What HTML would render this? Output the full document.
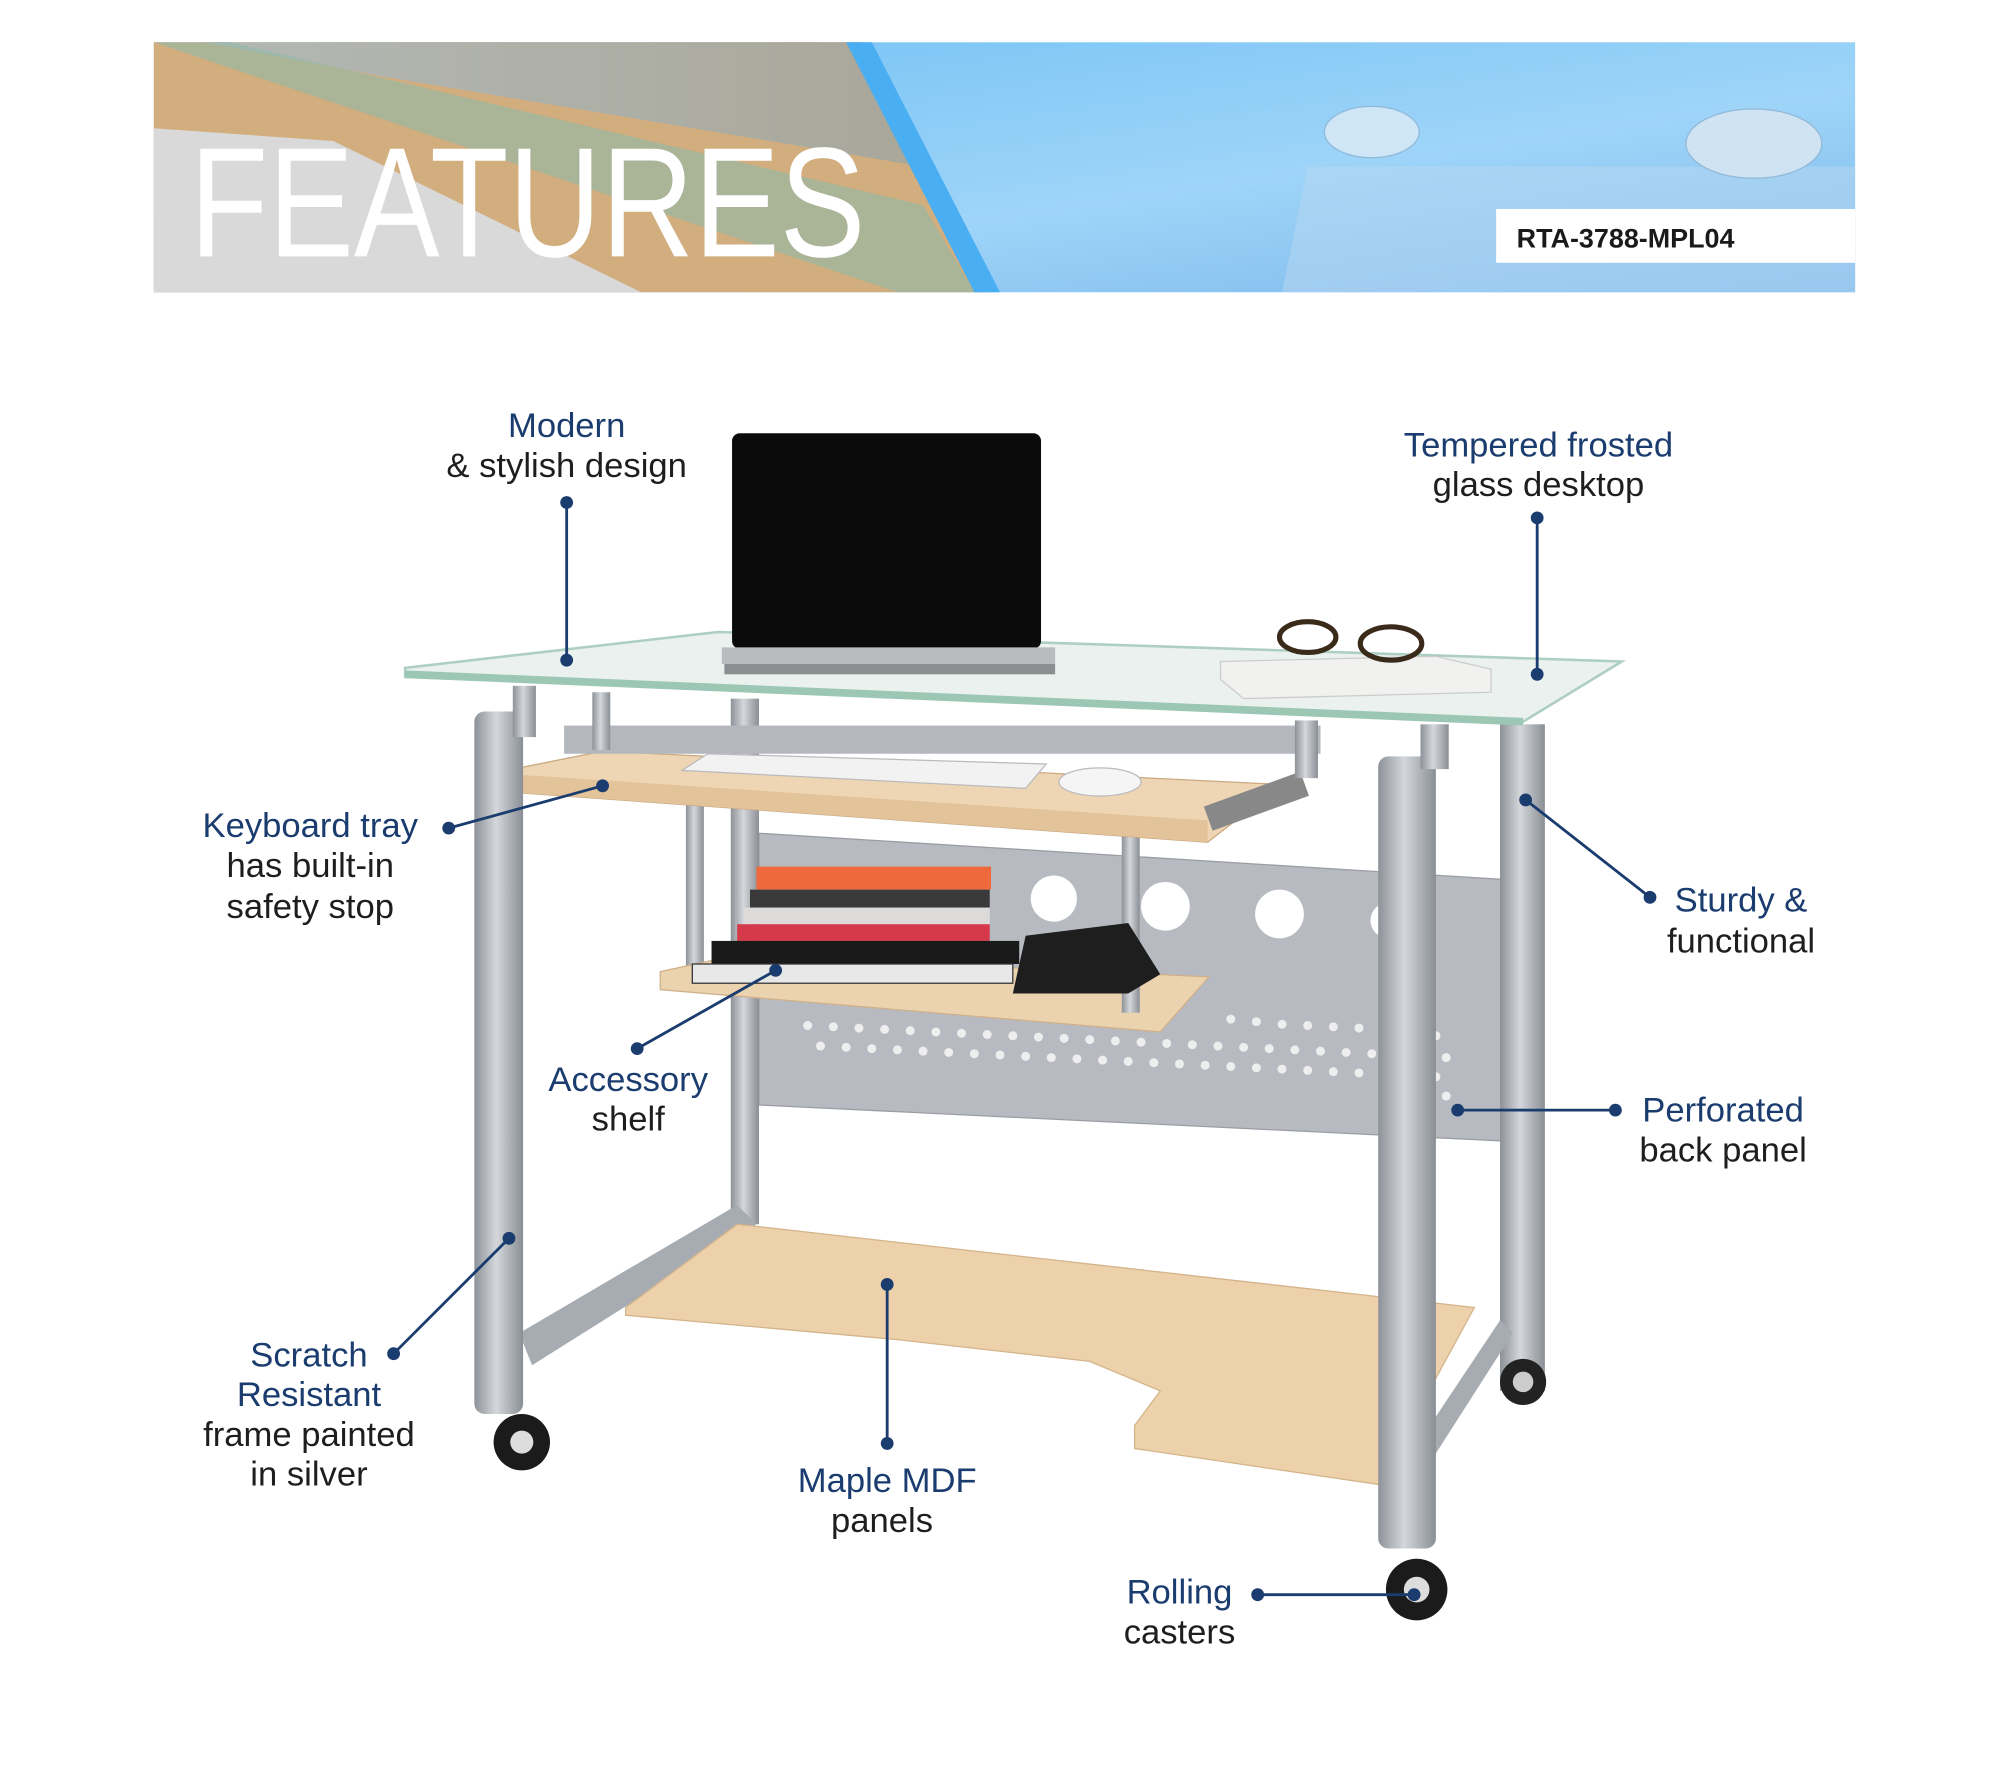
<!DOCTYPE html>
<html><head><meta charset="utf-8"><style>
html,body{margin:0;padding:0;background:#fff;}
svg{display:block;}
.h{font-family:"Liberation Sans",sans-serif;font-size:27px;fill:#1a3c6e;text-anchor:middle;}
.b{font-family:"Liberation Sans",sans-serif;font-size:27px;fill:#1e1e1e;text-anchor:middle;}
.ln{stroke:#1a3c6e;stroke-width:2.2;fill:none;}
.dt{fill:#1a3c6e;}
</style></head><body>
<svg width="2000" height="1778" viewBox="0 0 1560 1387" preserveAspectRatio="none" xmlns="http://www.w3.org/2000/svg">
<defs>
<linearGradient id="bl" x1="0" y1="0" x2="1" y2="1"><stop offset="0" stop-color="#6fc0f5"/><stop offset="0.6" stop-color="#9ed4f8"/><stop offset="1" stop-color="#7ab7ea"/></linearGradient>
<linearGradient id="lg" x1="0" y1="0" x2="1" y2="0"><stop offset="0" stop-color="#b3b8b4"/><stop offset="1" stop-color="#a9a79a"/></linearGradient>
<linearGradient id="leg" x1="0" y1="0" x2="1" y2="0"><stop offset="0" stop-color="#8d9298"/><stop offset="0.45" stop-color="#d4d7db"/><stop offset="1" stop-color="#8a8f95"/></linearGradient>
</defs>
<!-- banner -->
<rect x="120" y="33" width="1327" height="195" fill="url(#bl)"/>
<polygon points="120,33 670,33 770,228 120,228" fill="#d2ad7e"/>
<polygon points="160,33 670,33 720,130 300,60" fill="url(#lg)"/>
<polygon points="120,33 180,33 720,160 760,228 700,228" fill="#8fb9a8" opacity="0.6"/>
<polygon points="120,100 260,110 500,228 120,228" fill="#d9d9d9"/>
<polygon points="660,33 680,33 780,228 760,228" fill="#49aef2"/>
<polygon points="1020,130 1447,130 1447,228 1000,228" fill="#b7d8f2" opacity="0.5"/>
<ellipse cx="1070" cy="103" rx="37" ry="20" fill="#cfe6f7" stroke="#90b9d8"/>
<ellipse cx="1368" cy="112" rx="53" ry="27" fill="#cfe3f3" stroke="#90b9d8"/>
<text x="148" y="200" font-family="Liberation Sans,sans-serif" font-size="122" fill="#fff" textLength="527" lengthAdjust="spacingAndGlyphs" font-weight="normal" style="font-stretch:condensed">FEATURES</text>
<rect x="1167" y="163" width="280" height="42" fill="#fff"/>
<text x="1183" y="193" font-family="Liberation Sans,sans-serif" font-size="21" font-weight="bold" fill="#1a1a1a">RTA-3788-MPL04</text>

<!-- desk -->
<!-- back panel -->
<polygon points="592,650 1172,686 1172,890 592,862" fill="#b7bbc1" stroke="#9a9ea4"/>
<circle cx="822" cy="701" r="18" fill="#fff"/><circle cx="909" cy="707" r="19" fill="#fff"/><circle cx="998" cy="713" r="19" fill="#fff"/><circle cx="1083" cy="718" r="14" fill="#fff"/>
<g fill="#fff">
<rect x="620" y="790" width="515" height="50" fill="none"/>
</g>
<g fill="#f4f4f4" opacity="0.9">
<circle cx="630" cy="800" r="3.5"/><circle cx="650" cy="801" r="3.5"/><circle cx="670" cy="802" r="3.5"/><circle cx="690" cy="803" r="3.5"/><circle cx="710" cy="804" r="3.5"/><circle cx="730" cy="805" r="3.5"/><circle cx="750" cy="806" r="3.5"/><circle cx="770" cy="807" r="3.5"/><circle cx="790" cy="808" r="3.5"/><circle cx="810" cy="809" r="3.5"/><circle cx="830" cy="810" r="3.5"/><circle cx="850" cy="811" r="3.5"/><circle cx="870" cy="812" r="3.5"/><circle cx="890" cy="813" r="3.5"/><circle cx="910" cy="814" r="3.5"/><circle cx="930" cy="815" r="3.5"/><circle cx="950" cy="816" r="3.5"/><circle cx="970" cy="817" r="3.5"/><circle cx="990" cy="818" r="3.5"/><circle cx="1010" cy="819" r="3.5"/><circle cx="1030" cy="820" r="3.5"/><circle cx="1050" cy="821" r="3.5"/><circle cx="1070" cy="822" r="3.5"/><circle cx="1090" cy="823" r="3.5"/><circle cx="1110" cy="824" r="3.5"/>
<circle cx="640" cy="816" r="3.5"/><circle cx="660" cy="817" r="3.5"/><circle cx="680" cy="818" r="3.5"/><circle cx="700" cy="819" r="3.5"/><circle cx="720" cy="820" r="3.5"/><circle cx="740" cy="821" r="3.5"/><circle cx="760" cy="822" r="3.5"/><circle cx="780" cy="823" r="3.5"/><circle cx="800" cy="824" r="3.5"/><circle cx="820" cy="825" r="3.5"/><circle cx="840" cy="826" r="3.5"/><circle cx="860" cy="827" r="3.5"/><circle cx="880" cy="828" r="3.5"/><circle cx="900" cy="829" r="3.5"/><circle cx="920" cy="830" r="3.5"/><circle cx="940" cy="831" r="3.5"/><circle cx="960" cy="832" r="3.5"/><circle cx="980" cy="833" r="3.5"/><circle cx="1000" cy="834" r="3.5"/><circle cx="1020" cy="835" r="3.5"/><circle cx="1040" cy="836" r="3.5"/><circle cx="1060" cy="837" r="3.5"/><circle cx="1080" cy="838" r="3.5"/><circle cx="1100" cy="839" r="3.5"/><circle cx="1120" cy="840" r="3.5"/>
<circle cx="960" cy="795" r="3.5"/><circle cx="980" cy="797" r="3.5"/><circle cx="1000" cy="799" r="3.5"/><circle cx="1020" cy="800" r="3.5"/><circle cx="1040" cy="801" r="3.5"/><circle cx="1060" cy="802" r="3.5"/><circle cx="1080" cy="804" r="3.5"/><circle cx="1100" cy="806" r="3.5"/><circle cx="1120" cy="808" r="3.5"/><circle cx="1128" cy="855" r="3.5"/><circle cx="1128" cy="825" r="3.5"/>
</g>
<!-- back legs -->
<rect x="570" y="545" width="22" height="410" fill="url(#leg)"/>
<rect x="535" y="600" width="14" height="160" fill="url(#leg)"/>
<rect x="1170" y="565" width="35" height="520" fill="url(#leg)"/>
<circle cx="1188" cy="1078" r="18" fill="#222"/><circle cx="1188" cy="1078" r="8" fill="#ccc"/>
<!-- bottom frame -->
<polygon points="405,1040 575,940 590,955 415,1065" fill="#a7acb2"/>
<polygon points="1090,1150 1170,1030 1180,1040 1100,1165" fill="#a7acb2"/>
<!-- bottom shelf -->
<polygon points="488,1020 575,955 1150,1020 1075,1158 885,1130 885,1112 905,1085 850,1062 700,1045 488,1026" fill="#ecd1ab" stroke="#d4b48a"/>
<!-- accessory shelf -->
<polygon points="515,758 575,745 943,762 905,805 515,772" fill="#ecd3b0" stroke="#cfb08a"/>
<rect x="875" y="650" width="14" height="140" fill="url(#leg)"/>
<!-- books -->
<rect x="590" y="676" width="183" height="18" fill="#ee6a3c"/>
<rect x="585" y="694" width="187" height="14" fill="#3a3a3a"/>
<rect x="580" y="708" width="192" height="13" fill="#dddada"/>
<rect x="575" y="721" width="197" height="13" fill="#d6394a"/>
<rect x="555" y="734" width="240" height="18" fill="#1a1a1a"/>
<rect x="540" y="752" width="250" height="15" fill="#e8e8e8" stroke="#333"/>
<path d="M790,775 L800,730 L880,720 L905,760 L880,775 Z" fill="#1e1e1e"/>
<!-- keyboard tray -->
<polygon points="385,603 470,586 1000,612 942,657 385,617" fill="#eed6b4" stroke="#caa982"/>
<polygon points="385,603 942,640 942,657 385,617" fill="#e2c39a"/>
<rect x="940" y="615" width="80" height="20" fill="#888" transform="rotate(-20 980 625)"/>
<polygon points="532,601 552,588 816,596 800,615" fill="#f2f2f2" stroke="#bbb"/>
<ellipse cx="858" cy="610" rx="32" ry="11" fill="#f5f5f5" stroke="#bbb"/>
<rect x="440" y="566" width="590" height="22" fill="#b4b8be"/>
<!-- front legs -->
<rect x="370" y="555" width="38" height="548" rx="8" fill="url(#leg)"/>
<rect x="1075" y="590" width="45" height="618" rx="8" fill="url(#leg)"/>
<circle cx="407" cy="1125" r="22" fill="#1b1b1b"/><circle cx="407" cy="1125" r="9" fill="#ddd"/>
<circle cx="1105" cy="1240" r="24" fill="#1b1b1b"/><circle cx="1105" cy="1240" r="10" fill="#ddd"/>
<!-- top supports -->
<rect x="400" y="535" width="18" height="40" fill="url(#leg)"/>
<rect x="462" y="540" width="14" height="45" fill="url(#leg)"/>
<rect x="1010" y="562" width="18" height="45" fill="url(#leg)"/>
<rect x="1108" y="565" width="22" height="35" fill="url(#leg)"/>
<!-- glass top -->
<polygon points="316,521 560,493 1265,516 1188,563 316,528" fill="#e9f0ee" opacity="0.92" stroke="#a7cbbd" stroke-width="2"/>
<polygon points="316,523 1188,560 1188,566 316,529" fill="#9cc7b4"/>
<!-- laptop -->
<rect x="571" y="338" width="241" height="168" rx="6" fill="#0b0b0b"/>
<polygon points="563,505 823,505 823,518 563,518" fill="#b9bcbf"/>
<rect x="565" y="518" width="258" height="8" fill="#8b8e91"/>
<!-- glasses and notebook -->
<polygon points="952,516 1120,512 1163,522 1163,540 970,545 952,530" fill="#f1f1f0" stroke="#ccc"/>
<ellipse cx="1020" cy="497" rx="22" ry="12" fill="none" stroke="#3a2a1a" stroke-width="4"/>
<ellipse cx="1085" cy="502" rx="24" ry="13" fill="none" stroke="#3a2a1a" stroke-width="4"/>

<!-- callouts -->
<g class="ln">
<line x1="442" y1="392" x2="442" y2="515"/>
<line x1="1199" y1="404" x2="1199" y2="526"/>
<line x1="350" y1="646" x2="470" y2="613"/>
<line x1="1287" y1="700" x2="1190" y2="624"/>
<line x1="497" y1="818" x2="605" y2="757"/>
<line x1="1260" y1="866" x2="1137" y2="866"/>
<line x1="307" y1="1056" x2="397" y2="966"/>
<line x1="692" y1="1126" x2="692" y2="1002"/>
<line x1="981" y1="1244" x2="1103" y2="1244"/>
</g>
<g class="dt">
<circle cx="442" cy="392" r="5"/><circle cx="442" cy="515" r="5"/>
<circle cx="1199" cy="404" r="5"/><circle cx="1199" cy="526" r="5"/>
<circle cx="350" cy="646" r="5"/><circle cx="470" cy="613" r="5"/>
<circle cx="1287" cy="700" r="5"/><circle cx="1190" cy="624" r="5"/>
<circle cx="497" cy="818" r="5"/><circle cx="605" cy="757" r="5"/>
<circle cx="1260" cy="866" r="5"/><circle cx="1137" cy="866" r="5"/>
<circle cx="307" cy="1056" r="5"/><circle cx="397" cy="966" r="5"/>
<circle cx="692" cy="1126" r="5"/><circle cx="692" cy="1002" r="5"/>
<circle cx="981" cy="1244" r="5"/><circle cx="1103" cy="1244" r="5"/>
</g>
<text class="h" x="442" y="341">Modern</text>
<text class="b" x="442" y="372">&amp; stylish design</text>
<text class="h" x="1200" y="356">Tempered frosted</text>
<text class="b" x="1200" y="387">glass desktop</text>
<text class="h" x="242" y="653">Keyboard tray</text>
<text class="b" x="242" y="684">has built-in</text>
<text class="b" x="242" y="716">safety stop</text>
<text class="h" x="1358" y="711">Sturdy &amp;</text>
<text class="b" x="1358" y="743">functional</text>
<text class="h" x="490" y="851">Accessory</text>
<text class="b" x="490" y="882">shelf</text>
<text class="h" x="1344" y="875">Perforated</text>
<text class="b" x="1344" y="906">back panel</text>
<text class="h" x="241" y="1066">Scratch</text>
<text class="h" x="241" y="1097">Resistant</text>
<text class="b" x="241" y="1128">frame painted</text>
<text class="b" x="241" y="1159">in silver</text>
<text class="h" x="692" y="1164">Maple MDF</text>
<text class="b" x="688" y="1195">panels</text>
<text class="h" x="920" y="1251">Rolling</text>
<text class="b" x="920" y="1282">casters</text>
</svg>
</body></html>
